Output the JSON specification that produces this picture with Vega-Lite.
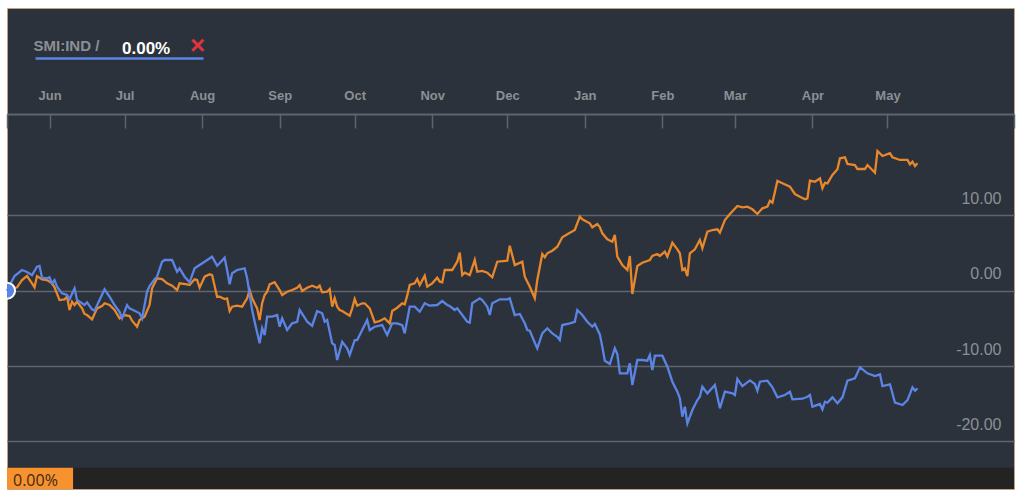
{
  "$schema": "https://vega.github.io/schema/vega-lite/v6.json",
  "width": 1007,
  "height": 481,
  "autosize": {"type": "none"},
  "padding": {"left": 7, "top": 8, "right": 10, "bottom": 7},
  "background": "#ffffff",
  "config": {
    "font": "Liberation Sans",
    "view": {"fill": "#2b323b", "stroke": "#f0a65e", "strokeDash": [1, 1], "strokeWidth": 1}
  },
  "data": {"values": [
    {"d":"2015-05-15","s":"Benchmark","v":0},
    {"d":"2015-05-19","s":"Benchmark","v":0.45},
    {"d":"2015-05-21","s":"Benchmark","v":1.42},
    {"d":"2015-05-23","s":"Benchmark","v":1.95},
    {"d":"2015-05-25","s":"Benchmark","v":0.98},
    {"d":"2015-05-26","s":"Benchmark","v":0.45},
    {"d":"2015-05-27","s":"Benchmark","v":1.95},
    {"d":"2015-05-29","s":"Benchmark","v":1.51},
    {"d":"2015-05-31","s":"Benchmark","v":1.42},
    {"d":"2015-06-02","s":"Benchmark","v":0.98},
    {"d":"2015-06-03","s":"Benchmark","v":0.45},
    {"d":"2015-06-05","s":"Benchmark","v":-1.24},
    {"d":"2015-06-07","s":"Benchmark","v":-1.14},
    {"d":"2015-06-08","s":"Benchmark","v":-0.80},
    {"d":"2015-06-09","s":"Benchmark","v":-2.56},
    {"d":"2015-06-10","s":"Benchmark","v":-1.46},
    {"d":"2015-06-11","s":"Benchmark","v":-1.90},
    {"d":"2015-06-12","s":"Benchmark","v":-1.46},
    {"d":"2015-06-14","s":"Benchmark","v":-2.34},
    {"d":"2015-06-15","s":"Benchmark","v":-3.09},
    {"d":"2015-06-16","s":"Benchmark","v":-3.23},
    {"d":"2015-06-18","s":"Benchmark","v":-3.80},
    {"d":"2015-06-20","s":"Benchmark","v":-2.34},
    {"d":"2015-06-22","s":"Benchmark","v":-2.03},
    {"d":"2015-06-23","s":"Benchmark","v":-1.67},
    {"d":"2015-06-25","s":"Benchmark","v":-1.90},
    {"d":"2015-06-27","s":"Benchmark","v":-2.56},
    {"d":"2015-06-29","s":"Benchmark","v":-3.67},
    {"d":"2015-07-01","s":"Benchmark","v":-3.23},
    {"d":"2015-07-03","s":"Benchmark","v":-3.36},
    {"d":"2015-07-04","s":"Benchmark","v":-3.98},
    {"d":"2015-07-06","s":"Benchmark","v":-4.78},
    {"d":"2015-07-07","s":"Benchmark","v":-3.89},
    {"d":"2015-07-09","s":"Benchmark","v":-3.45},
    {"d":"2015-07-11","s":"Benchmark","v":-1.90},
    {"d":"2015-07-12","s":"Benchmark","v":0.32},
    {"d":"2015-07-14","s":"Benchmark","v":1.65},
    {"d":"2015-07-16","s":"Benchmark","v":1.55},
    {"d":"2015-07-18","s":"Benchmark","v":0.98},
    {"d":"2015-07-20","s":"Benchmark","v":0.66},
    {"d":"2015-07-22","s":"Benchmark","v":0.09},
    {"d":"2015-07-23","s":"Benchmark","v":0.98},
    {"d":"2015-07-26","s":"Benchmark","v":0.85},
    {"d":"2015-07-27","s":"Benchmark","v":0.76},
    {"d":"2015-07-29","s":"Benchmark","v":1.51},
    {"d":"2015-07-30","s":"Benchmark","v":1.42},
    {"d":"2015-07-31","s":"Benchmark","v":0.40},
    {"d":"2015-08-02","s":"Benchmark","v":1.86},
    {"d":"2015-08-04","s":"Benchmark","v":2.18},
    {"d":"2015-08-05","s":"Benchmark","v":2.08},
    {"d":"2015-08-07","s":"Benchmark","v":-0.80},
    {"d":"2015-08-08","s":"Benchmark","v":-0.80},
    {"d":"2015-08-10","s":"Benchmark","v":-1.10},
    {"d":"2015-08-11","s":"Benchmark","v":-1.01},
    {"d":"2015-08-12","s":"Benchmark","v":-2.70},
    {"d":"2015-08-13","s":"Benchmark","v":-2.12},
    {"d":"2015-08-15","s":"Benchmark","v":-1.99},
    {"d":"2015-08-17","s":"Benchmark","v":-2.12},
    {"d":"2015-08-19","s":"Benchmark","v":-1.01},
    {"d":"2015-08-20","s":"Benchmark","v":0.09},
    {"d":"2015-08-21","s":"Benchmark","v":-1.01},
    {"d":"2015-08-23","s":"Benchmark","v":-2.34},
    {"d":"2015-08-24","s":"Benchmark","v":-3.89},
    {"d":"2015-08-25","s":"Benchmark","v":-1.67},
    {"d":"2015-08-26","s":"Benchmark","v":-0.57},
    {"d":"2015-08-27","s":"Benchmark","v":-0.13},
    {"d":"2015-08-28","s":"Benchmark","v":0.85},
    {"d":"2015-08-30","s":"Benchmark","v":1.12},
    {"d":"2015-09-01","s":"Benchmark","v":0.09},
    {"d":"2015-09-02","s":"Benchmark","v":-0.57},
    {"d":"2015-09-04","s":"Benchmark","v":-0.13},
    {"d":"2015-09-06","s":"Benchmark","v":0.09},
    {"d":"2015-09-08","s":"Benchmark","v":0.40},
    {"d":"2015-09-09","s":"Benchmark","v":0.76},
    {"d":"2015-09-10","s":"Benchmark","v":-0.04},
    {"d":"2015-09-12","s":"Benchmark","v":0.40},
    {"d":"2015-09-14","s":"Benchmark","v":0.66},
    {"d":"2015-09-16","s":"Benchmark","v":0.40},
    {"d":"2015-09-17","s":"Benchmark","v":0.66},
    {"d":"2015-09-18","s":"Benchmark","v":-0.21},
    {"d":"2015-09-20","s":"Benchmark","v":-0.13},
    {"d":"2015-09-21","s":"Benchmark","v":0.23},
    {"d":"2015-09-22","s":"Benchmark","v":-2.12},
    {"d":"2015-09-23","s":"Benchmark","v":-1.01},
    {"d":"2015-09-24","s":"Benchmark","v":-2.12},
    {"d":"2015-09-25","s":"Benchmark","v":-2.56},
    {"d":"2015-09-26","s":"Benchmark","v":-2.70},
    {"d":"2015-09-29","s":"Benchmark","v":-3.32},
    {"d":"2015-09-30","s":"Benchmark","v":-2.34},
    {"d":"2015-10-01","s":"Benchmark","v":-1.10},
    {"d":"2015-10-02","s":"Benchmark","v":-1.99},
    {"d":"2015-10-04","s":"Benchmark","v":-1.67},
    {"d":"2015-10-05","s":"Benchmark","v":-1.67},
    {"d":"2015-10-07","s":"Benchmark","v":-2.34},
    {"d":"2015-10-09","s":"Benchmark","v":-4.20},
    {"d":"2015-10-11","s":"Benchmark","v":-4.02},
    {"d":"2015-10-13","s":"Benchmark","v":-3.67},
    {"d":"2015-10-15","s":"Benchmark","v":-4.33},
    {"d":"2015-10-16","s":"Benchmark","v":-2.70},
    {"d":"2015-10-18","s":"Benchmark","v":-2.26},
    {"d":"2015-10-20","s":"Benchmark","v":-1.67},
    {"d":"2015-10-21","s":"Benchmark","v":-1.81},
    {"d":"2015-10-22","s":"Benchmark","v":-0.66},
    {"d":"2015-10-23","s":"Benchmark","v":0.76},
    {"d":"2015-10-25","s":"Benchmark","v":0.98},
    {"d":"2015-10-26","s":"Benchmark","v":1.55},
    {"d":"2015-10-27","s":"Benchmark","v":0.76},
    {"d":"2015-10-29","s":"Benchmark","v":1.99},
    {"d":"2015-10-30","s":"Benchmark","v":0.53},
    {"d":"2015-11-01","s":"Benchmark","v":0.98},
    {"d":"2015-11-03","s":"Benchmark","v":1.73},
    {"d":"2015-11-04","s":"Benchmark","v":1.20},
    {"d":"2015-11-05","s":"Benchmark","v":1.12},
    {"d":"2015-11-06","s":"Benchmark","v":2.75},
    {"d":"2015-11-09","s":"Benchmark","v":2.75},
    {"d":"2015-11-11","s":"Benchmark","v":3.85},
    {"d":"2015-11-12","s":"Benchmark","v":5.05},
    {"d":"2015-11-13","s":"Benchmark","v":2.08},
    {"d":"2015-11-14","s":"Benchmark","v":2.39},
    {"d":"2015-11-16","s":"Benchmark","v":2.08},
    {"d":"2015-11-18","s":"Benchmark","v":4.08},
    {"d":"2015-11-19","s":"Benchmark","v":2.52},
    {"d":"2015-11-21","s":"Benchmark","v":2.62},
    {"d":"2015-11-23","s":"Benchmark","v":2.39},
    {"d":"2015-11-25","s":"Benchmark","v":1.78},
    {"d":"2015-11-27","s":"Benchmark","v":3.85},
    {"d":"2015-12-01","s":"Benchmark","v":3.98},
    {"d":"2015-12-02","s":"Benchmark","v":5.98},
    {"d":"2015-12-04","s":"Benchmark","v":3.41},
    {"d":"2015-12-07","s":"Benchmark","v":3.85},
    {"d":"2015-12-08","s":"Benchmark","v":1.86},
    {"d":"2015-12-10","s":"Benchmark","v":0.53},
    {"d":"2015-12-12","s":"Benchmark","v":-1.01},
    {"d":"2015-12-13","s":"Benchmark","v":1.42},
    {"d":"2015-12-15","s":"Benchmark","v":4.87},
    {"d":"2015-12-16","s":"Benchmark","v":4.44},
    {"d":"2015-12-17","s":"Benchmark","v":4.97},
    {"d":"2015-12-19","s":"Benchmark","v":5.31},
    {"d":"2015-12-21","s":"Benchmark","v":5.84},
    {"d":"2015-12-23","s":"Benchmark","v":7.09},
    {"d":"2015-12-25","s":"Benchmark","v":7.49},
    {"d":"2015-12-28","s":"Benchmark","v":8.06},
    {"d":"2015-12-30","s":"Benchmark","v":9.83},
    {"d":"2015-12-31","s":"Benchmark","v":9.48},
    {"d":"2016-01-03","s":"Benchmark","v":8.95},
    {"d":"2016-01-04","s":"Benchmark","v":8.42},
    {"d":"2016-01-06","s":"Benchmark","v":8.86},
    {"d":"2016-01-07","s":"Benchmark","v":8.46},
    {"d":"2016-01-08","s":"Benchmark","v":7.62},
    {"d":"2016-01-10","s":"Benchmark","v":6.83},
    {"d":"2016-01-12","s":"Benchmark","v":6.51},
    {"d":"2016-01-13","s":"Benchmark","v":7.40},
    {"d":"2016-01-14","s":"Benchmark","v":4.52},
    {"d":"2016-01-16","s":"Benchmark","v":3.41},
    {"d":"2016-01-18","s":"Benchmark","v":2.75},
    {"d":"2016-01-19","s":"Benchmark","v":4.61},
    {"d":"2016-01-20","s":"Benchmark","v":-0.44},
    {"d":"2016-01-22","s":"Benchmark","v":3.28},
    {"d":"2016-01-24","s":"Benchmark","v":3.72},
    {"d":"2016-01-27","s":"Benchmark","v":4.08},
    {"d":"2016-01-28","s":"Benchmark","v":4.61},
    {"d":"2016-01-30","s":"Benchmark","v":4.87},
    {"d":"2016-01-31","s":"Benchmark","v":4.61},
    {"d":"2016-02-02","s":"Benchmark","v":5.18},
    {"d":"2016-02-03","s":"Benchmark","v":4.52},
    {"d":"2016-02-05","s":"Benchmark","v":6.37},
    {"d":"2016-02-07","s":"Benchmark","v":5.50},
    {"d":"2016-02-08","s":"Benchmark","v":4.97},
    {"d":"2016-02-09","s":"Benchmark","v":2.75},
    {"d":"2016-02-10","s":"Benchmark","v":2.97},
    {"d":"2016-02-11","s":"Benchmark","v":1.95},
    {"d":"2016-02-12","s":"Benchmark","v":4.97},
    {"d":"2016-02-14","s":"Benchmark","v":5.50},
    {"d":"2016-02-16","s":"Benchmark","v":6.73},
    {"d":"2016-02-17","s":"Benchmark","v":5.63},
    {"d":"2016-02-19","s":"Benchmark","v":7.84},
    {"d":"2016-02-21","s":"Benchmark","v":8.06},
    {"d":"2016-02-23","s":"Benchmark","v":8.15},
    {"d":"2016-02-24","s":"Benchmark","v":7.70},
    {"d":"2016-02-26","s":"Benchmark","v":9.39},
    {"d":"2016-02-28","s":"Benchmark","v":10.19},
    {"d":"2016-03-02","s":"Benchmark","v":11.25},
    {"d":"2016-03-04","s":"Benchmark","v":11.08},
    {"d":"2016-03-06","s":"Benchmark","v":11.16},
    {"d":"2016-03-08","s":"Benchmark","v":10.81},
    {"d":"2016-03-10","s":"Benchmark","v":10.19},
    {"d":"2016-03-12","s":"Benchmark","v":10.94},
    {"d":"2016-03-14","s":"Benchmark","v":11.16},
    {"d":"2016-03-15","s":"Benchmark","v":11.95},
    {"d":"2016-03-16","s":"Benchmark","v":11.69},
    {"d":"2016-03-18","s":"Benchmark","v":14.57},
    {"d":"2016-03-20","s":"Benchmark","v":14.26},
    {"d":"2016-03-23","s":"Benchmark","v":13.81},
    {"d":"2016-03-25","s":"Benchmark","v":12.84},
    {"d":"2016-03-27","s":"Benchmark","v":12.48},
    {"d":"2016-03-29","s":"Benchmark","v":12.14},
    {"d":"2016-03-30","s":"Benchmark","v":12.27},
    {"d":"2016-03-31","s":"Benchmark","v":14.61},
    {"d":"2016-04-02","s":"Benchmark","v":14.48},
    {"d":"2016-04-04","s":"Benchmark","v":14.93},
    {"d":"2016-04-05","s":"Benchmark","v":13.60},
    {"d":"2016-04-06","s":"Benchmark","v":14.34},
    {"d":"2016-04-07","s":"Benchmark","v":14.26},
    {"d":"2016-04-09","s":"Benchmark","v":15.37},
    {"d":"2016-04-11","s":"Benchmark","v":16.12},
    {"d":"2016-04-12","s":"Benchmark","v":17.58},
    {"d":"2016-04-14","s":"Benchmark","v":17.72},
    {"d":"2016-04-15","s":"Benchmark","v":16.83},
    {"d":"2016-04-18","s":"Benchmark","v":16.69},
    {"d":"2016-04-19","s":"Benchmark","v":16.16},
    {"d":"2016-04-22","s":"Benchmark","v":16.16},
    {"d":"2016-04-23","s":"Benchmark","v":16.69},
    {"d":"2016-04-26","s":"Benchmark","v":15.67},
    {"d":"2016-04-27","s":"Benchmark","v":18.55},
    {"d":"2016-04-29","s":"Benchmark","v":17.89},
    {"d":"2016-05-02","s":"Benchmark","v":18.25},
    {"d":"2016-05-03","s":"Benchmark","v":17.72},
    {"d":"2016-05-06","s":"Benchmark","v":17.36},
    {"d":"2016-05-09","s":"Benchmark","v":17.36},
    {"d":"2016-05-10","s":"Benchmark","v":16.79},
    {"d":"2016-05-11","s":"Benchmark","v":17.13},
    {"d":"2016-05-12","s":"Benchmark","v":16.56},
    {"d":"2016-05-13","s":"Benchmark","v":16.92},
    {"d":"2015-05-15","s":"SMI:IND","v":0},
    {"d":"2015-05-18","s":"SMI:IND","v":1.95},
    {"d":"2015-05-21","s":"SMI:IND","v":2.75},
    {"d":"2015-05-23","s":"SMI:IND","v":2.48},
    {"d":"2015-05-25","s":"SMI:IND","v":2.08},
    {"d":"2015-05-27","s":"SMI:IND","v":3.19},
    {"d":"2015-05-28","s":"SMI:IND","v":3.28},
    {"d":"2015-05-29","s":"SMI:IND","v":1.73},
    {"d":"2015-05-31","s":"SMI:IND","v":1.65},
    {"d":"2015-06-01","s":"SMI:IND","v":1.78},
    {"d":"2015-06-02","s":"SMI:IND","v":0.98},
    {"d":"2015-06-03","s":"SMI:IND","v":1.42},
    {"d":"2015-06-04","s":"SMI:IND","v":0.53},
    {"d":"2015-06-06","s":"SMI:IND","v":-0.35},
    {"d":"2015-06-08","s":"SMI:IND","v":-0.57},
    {"d":"2015-06-09","s":"SMI:IND","v":-1.14},
    {"d":"2015-06-11","s":"SMI:IND","v":0.32},
    {"d":"2015-06-12","s":"SMI:IND","v":-1.24},
    {"d":"2015-06-14","s":"SMI:IND","v":-1.67},
    {"d":"2015-06-15","s":"SMI:IND","v":-1.90},
    {"d":"2015-06-16","s":"SMI:IND","v":-1.54},
    {"d":"2015-06-18","s":"SMI:IND","v":-2.47},
    {"d":"2015-06-19","s":"SMI:IND","v":-2.66},
    {"d":"2015-06-21","s":"SMI:IND","v":-1.24},
    {"d":"2015-06-23","s":"SMI:IND","v":0.19},
    {"d":"2015-06-25","s":"SMI:IND","v":-0.80},
    {"d":"2015-06-27","s":"SMI:IND","v":-1.90},
    {"d":"2015-06-29","s":"SMI:IND","v":-2.79},
    {"d":"2015-06-30","s":"SMI:IND","v":-3.67},
    {"d":"2015-07-02","s":"SMI:IND","v":-1.90},
    {"d":"2015-07-03","s":"SMI:IND","v":-2.34},
    {"d":"2015-07-05","s":"SMI:IND","v":-2.66},
    {"d":"2015-07-07","s":"SMI:IND","v":-3.00},
    {"d":"2015-07-08","s":"SMI:IND","v":-3.67},
    {"d":"2015-07-10","s":"SMI:IND","v":-0.13},
    {"d":"2015-07-11","s":"SMI:IND","v":0.62},
    {"d":"2015-07-13","s":"SMI:IND","v":1.51},
    {"d":"2015-07-14","s":"SMI:IND","v":1.86},
    {"d":"2015-07-16","s":"SMI:IND","v":3.85},
    {"d":"2015-07-17","s":"SMI:IND","v":4.08},
    {"d":"2015-07-20","s":"SMI:IND","v":4.08},
    {"d":"2015-07-22","s":"SMI:IND","v":2.52},
    {"d":"2015-07-23","s":"SMI:IND","v":2.97},
    {"d":"2015-07-25","s":"SMI:IND","v":1.86},
    {"d":"2015-07-27","s":"SMI:IND","v":1.12},
    {"d":"2015-07-29","s":"SMI:IND","v":2.97},
    {"d":"2015-07-31","s":"SMI:IND","v":3.41},
    {"d":"2015-08-02","s":"SMI:IND","v":3.85},
    {"d":"2015-08-05","s":"SMI:IND","v":4.52},
    {"d":"2015-08-07","s":"SMI:IND","v":3.32},
    {"d":"2015-08-08","s":"SMI:IND","v":3.64},
    {"d":"2015-08-10","s":"SMI:IND","v":4.38},
    {"d":"2015-08-11","s":"SMI:IND","v":2.75},
    {"d":"2015-08-12","s":"SMI:IND","v":0.85},
    {"d":"2015-08-13","s":"SMI:IND","v":2.31},
    {"d":"2015-08-15","s":"SMI:IND","v":2.75},
    {"d":"2015-08-18","s":"SMI:IND","v":2.97},
    {"d":"2015-08-19","s":"SMI:IND","v":1.65},
    {"d":"2015-08-21","s":"SMI:IND","v":-2.56},
    {"d":"2015-08-22","s":"SMI:IND","v":-4.12},
    {"d":"2015-08-24","s":"SMI:IND","v":-6.99},
    {"d":"2015-08-25","s":"SMI:IND","v":-4.99},
    {"d":"2015-08-26","s":"SMI:IND","v":-5.88},
    {"d":"2015-08-27","s":"SMI:IND","v":-3.45},
    {"d":"2015-08-29","s":"SMI:IND","v":-3.45},
    {"d":"2015-08-31","s":"SMI:IND","v":-3.23},
    {"d":"2015-09-01","s":"SMI:IND","v":-4.78},
    {"d":"2015-09-02","s":"SMI:IND","v":-3.67},
    {"d":"2015-09-04","s":"SMI:IND","v":-5.22},
    {"d":"2015-09-06","s":"SMI:IND","v":-4.33},
    {"d":"2015-09-08","s":"SMI:IND","v":-4.12},
    {"d":"2015-09-09","s":"SMI:IND","v":-2.56},
    {"d":"2015-09-11","s":"SMI:IND","v":-3.56},
    {"d":"2015-09-12","s":"SMI:IND","v":-4.12},
    {"d":"2015-09-14","s":"SMI:IND","v":-4.65},
    {"d":"2015-09-16","s":"SMI:IND","v":-2.70},
    {"d":"2015-09-18","s":"SMI:IND","v":-3.00},
    {"d":"2015-09-19","s":"SMI:IND","v":-4.12},
    {"d":"2015-09-20","s":"SMI:IND","v":-3.89},
    {"d":"2015-09-22","s":"SMI:IND","v":-6.99},
    {"d":"2015-09-23","s":"SMI:IND","v":-7.21},
    {"d":"2015-09-24","s":"SMI:IND","v":-9.20},
    {"d":"2015-09-26","s":"SMI:IND","v":-6.77},
    {"d":"2015-09-28","s":"SMI:IND","v":-7.65},
    {"d":"2015-09-29","s":"SMI:IND","v":-8.54},
    {"d":"2015-10-01","s":"SMI:IND","v":-6.55},
    {"d":"2015-10-02","s":"SMI:IND","v":-6.55},
    {"d":"2015-10-04","s":"SMI:IND","v":-5.22},
    {"d":"2015-10-06","s":"SMI:IND","v":-3.89},
    {"d":"2015-10-07","s":"SMI:IND","v":-5.22},
    {"d":"2015-10-09","s":"SMI:IND","v":-4.78},
    {"d":"2015-10-12","s":"SMI:IND","v":-4.56},
    {"d":"2015-10-14","s":"SMI:IND","v":-5.88},
    {"d":"2015-10-16","s":"SMI:IND","v":-4.33},
    {"d":"2015-10-18","s":"SMI:IND","v":-4.33},
    {"d":"2015-10-20","s":"SMI:IND","v":-4.56},
    {"d":"2015-10-21","s":"SMI:IND","v":-5.66},
    {"d":"2015-10-23","s":"SMI:IND","v":-2.12},
    {"d":"2015-10-25","s":"SMI:IND","v":-2.12},
    {"d":"2015-10-27","s":"SMI:IND","v":-2.79},
    {"d":"2015-10-29","s":"SMI:IND","v":-1.67},
    {"d":"2015-10-31","s":"SMI:IND","v":-1.99},
    {"d":"2015-11-03","s":"SMI:IND","v":-1.90},
    {"d":"2015-11-05","s":"SMI:IND","v":-1.37},
    {"d":"2015-11-07","s":"SMI:IND","v":-1.90},
    {"d":"2015-11-08","s":"SMI:IND","v":-2.03},
    {"d":"2015-11-10","s":"SMI:IND","v":-2.56},
    {"d":"2015-11-11","s":"SMI:IND","v":-2.34},
    {"d":"2015-11-13","s":"SMI:IND","v":-3.23},
    {"d":"2015-11-15","s":"SMI:IND","v":-4.12},
    {"d":"2015-11-16","s":"SMI:IND","v":-4.25},
    {"d":"2015-11-17","s":"SMI:IND","v":-1.67},
    {"d":"2015-11-20","s":"SMI:IND","v":-1.01},
    {"d":"2015-11-21","s":"SMI:IND","v":-1.24},
    {"d":"2015-11-23","s":"SMI:IND","v":-2.12},
    {"d":"2015-11-24","s":"SMI:IND","v":-3.23},
    {"d":"2015-11-25","s":"SMI:IND","v":-1.67},
    {"d":"2015-11-28","s":"SMI:IND","v":-1.14},
    {"d":"2015-12-01","s":"SMI:IND","v":-1.14},
    {"d":"2015-12-02","s":"SMI:IND","v":-1.01},
    {"d":"2015-12-04","s":"SMI:IND","v":-3.23},
    {"d":"2015-12-06","s":"SMI:IND","v":-3.09},
    {"d":"2015-12-08","s":"SMI:IND","v":-4.33},
    {"d":"2015-12-09","s":"SMI:IND","v":-5.22},
    {"d":"2015-12-10","s":"SMI:IND","v":-5.31},
    {"d":"2015-12-12","s":"SMI:IND","v":-6.91},
    {"d":"2015-12-13","s":"SMI:IND","v":-7.65},
    {"d":"2015-12-15","s":"SMI:IND","v":-5.66},
    {"d":"2015-12-17","s":"SMI:IND","v":-4.99},
    {"d":"2015-12-19","s":"SMI:IND","v":-5.66},
    {"d":"2015-12-21","s":"SMI:IND","v":-6.11},
    {"d":"2015-12-22","s":"SMI:IND","v":-6.55},
    {"d":"2015-12-23","s":"SMI:IND","v":-4.56},
    {"d":"2015-12-26","s":"SMI:IND","v":-4.33},
    {"d":"2015-12-28","s":"SMI:IND","v":-4.12},
    {"d":"2015-12-29","s":"SMI:IND","v":-2.56},
    {"d":"2015-12-31","s":"SMI:IND","v":-3.23},
    {"d":"2016-01-02","s":"SMI:IND","v":-4.12},
    {"d":"2016-01-04","s":"SMI:IND","v":-4.78},
    {"d":"2016-01-05","s":"SMI:IND","v":-4.42},
    {"d":"2016-01-07","s":"SMI:IND","v":-5.80},
    {"d":"2016-01-08","s":"SMI:IND","v":-7.44},
    {"d":"2016-01-09","s":"SMI:IND","v":-9.30},
    {"d":"2016-01-11","s":"SMI:IND","v":-9.73},
    {"d":"2016-01-13","s":"SMI:IND","v":-7.65},
    {"d":"2016-01-14","s":"SMI:IND","v":-8.41},
    {"d":"2016-01-15","s":"SMI:IND","v":-10.97},
    {"d":"2016-01-18","s":"SMI:IND","v":-10.97},
    {"d":"2016-01-19","s":"SMI:IND","v":-9.64},
    {"d":"2016-01-20","s":"SMI:IND","v":-12.52},
    {"d":"2016-01-22","s":"SMI:IND","v":-9.20},
    {"d":"2016-01-24","s":"SMI:IND","v":-9.20},
    {"d":"2016-01-26","s":"SMI:IND","v":-9.30},
    {"d":"2016-01-27","s":"SMI:IND","v":-8.54},
    {"d":"2016-01-28","s":"SMI:IND","v":-10.53},
    {"d":"2016-01-29","s":"SMI:IND","v":-8.63},
    {"d":"2016-02-01","s":"SMI:IND","v":-8.63},
    {"d":"2016-02-03","s":"SMI:IND","v":-10.09},
    {"d":"2016-02-05","s":"SMI:IND","v":-12.08},
    {"d":"2016-02-07","s":"SMI:IND","v":-13.41},
    {"d":"2016-02-08","s":"SMI:IND","v":-14.29},
    {"d":"2016-02-09","s":"SMI:IND","v":-16.73},
    {"d":"2016-02-10","s":"SMI:IND","v":-15.40},
    {"d":"2016-02-11","s":"SMI:IND","v":-17.61},
    {"d":"2016-02-13","s":"SMI:IND","v":-15.84},
    {"d":"2016-02-15","s":"SMI:IND","v":-14.52},
    {"d":"2016-02-16","s":"SMI:IND","v":-14.08},
    {"d":"2016-02-17","s":"SMI:IND","v":-12.75},
    {"d":"2016-02-19","s":"SMI:IND","v":-13.63},
    {"d":"2016-02-22","s":"SMI:IND","v":-12.52},
    {"d":"2016-02-24","s":"SMI:IND","v":-15.62},
    {"d":"2016-02-26","s":"SMI:IND","v":-13.41},
    {"d":"2016-02-29","s":"SMI:IND","v":-13.63},
    {"d":"2016-03-01","s":"SMI:IND","v":-13.85},
    {"d":"2016-03-02","s":"SMI:IND","v":-11.73},
    {"d":"2016-03-04","s":"SMI:IND","v":-12.66},
    {"d":"2016-03-07","s":"SMI:IND","v":-11.90},
    {"d":"2016-03-09","s":"SMI:IND","v":-12.39},
    {"d":"2016-03-10","s":"SMI:IND","v":-13.28},
    {"d":"2016-03-11","s":"SMI:IND","v":-12.08},
    {"d":"2016-03-14","s":"SMI:IND","v":-11.95},
    {"d":"2016-03-16","s":"SMI:IND","v":-12.83},
    {"d":"2016-03-18","s":"SMI:IND","v":-14.16},
    {"d":"2016-03-21","s":"SMI:IND","v":-13.85},
    {"d":"2016-03-23","s":"SMI:IND","v":-13.41},
    {"d":"2016-03-24","s":"SMI:IND","v":-14.42},
    {"d":"2016-03-28","s":"SMI:IND","v":-14.34},
    {"d":"2016-03-30","s":"SMI:IND","v":-14.08},
    {"d":"2016-03-31","s":"SMI:IND","v":-13.85},
    {"d":"2016-04-01","s":"SMI:IND","v":-15.40},
    {"d":"2016-04-04","s":"SMI:IND","v":-15.05},
    {"d":"2016-04-05","s":"SMI:IND","v":-15.75},
    {"d":"2016-04-06","s":"SMI:IND","v":-14.74},
    {"d":"2016-04-07","s":"SMI:IND","v":-14.87},
    {"d":"2016-04-09","s":"SMI:IND","v":-14.16},
    {"d":"2016-04-11","s":"SMI:IND","v":-14.95},
    {"d":"2016-04-13","s":"SMI:IND","v":-14.16},
    {"d":"2016-04-15","s":"SMI:IND","v":-11.95},
    {"d":"2016-04-18","s":"SMI:IND","v":-11.63},
    {"d":"2016-04-20","s":"SMI:IND","v":-10.17},
    {"d":"2016-04-23","s":"SMI:IND","v":-10.97},
    {"d":"2016-04-26","s":"SMI:IND","v":-11.33},
    {"d":"2016-04-28","s":"SMI:IND","v":-11.10},
    {"d":"2016-04-29","s":"SMI:IND","v":-12.66},
    {"d":"2016-05-02","s":"SMI:IND","v":-12.43},
    {"d":"2016-05-04","s":"SMI:IND","v":-14.87},
    {"d":"2016-05-07","s":"SMI:IND","v":-15.18},
    {"d":"2016-05-09","s":"SMI:IND","v":-14.52},
    {"d":"2016-05-11","s":"SMI:IND","v":-12.83},
    {"d":"2016-05-12","s":"SMI:IND","v":-13.28},
    {"d":"2016-05-13","s":"SMI:IND","v":-12.96}
  ]},
  "layer": [
    {
      "data": {"values": [{}]},
      "mark": {"type": "rect", "color": "#232323"},
      "encoding": {
        "x": {"datum": {"year": 2015, "month": 5, "date": 15}, "type": "temporal",
              "scale": {"domain": [{"year": 2015, "month": 5, "date": 15}, {"year": 2016, "month": 6, "date": 20, "hours": 14}]}},
        "x2": {"datum": {"year": 2016, "month": 6, "date": 20, "hours": 14}},
        "y": {"datum": -23.5, "type": "quantitative", "scale": {"domain": [-26.33, 37.54], "nice": false, "zero": false}},
        "y2": {"datum": -26.33}
      }
    },
    {
      "data": {"values": [{}]},
      "mark": {"type": "rect", "color": "#f7922f"},
      "encoding": {
        "x": {"datum": {"year": 2015, "month": 5, "date": 15}, "type": "temporal"},
        "x2": {"datum": {"year": 2015, "month": 6, "date": 10, "hours": 10}},
        "y": {"datum": -23.5, "type": "quantitative"},
        "y2": {"datum": -26.33}
      }
    },
    {
      "data": {"values": [{}]},
      "mark": {"type": "text", "text": "0.00%", "align": "left", "baseline": "middle", "dx": 6, "font": "Open Sans", "fontSize": 16, "fill": "#3b2a17"},
      "encoding": {
        "x": {"datum": {"year": 2015, "month": 5, "date": 15}, "type": "temporal"},
        "y": {"datum": -25.3, "type": "quantitative"}
      }
    },
    {
      "mark": {"type": "line", "strokeWidth": 2.3},
      "encoding": {
        "x": {"field": "d", "type": "temporal",
              "axis": {"orient": "top", "offset": -106,
                       "values": [{"year": 2015, "month": 5, "date": 15, "hours": 3}, {"year": 2015, "month": 6, "date": 1}, {"year": 2015, "month": 7, "date": 1}, {"year": 2015, "month": 8, "date": 1}, {"year": 2015, "month": 9, "date": 1}, {"year": 2015, "month": 10, "date": 1}, {"year": 2015, "month": 11, "date": 1}, {"year": 2015, "month": 12, "date": 1}, {"year": 2016, "month": 1, "date": 1}, {"year": 2016, "month": 2, "date": 1}, {"year": 2016, "month": 3, "date": 1}, {"year": 2016, "month": 4, "date": 1}, {"year": 2016, "month": 5, "date": 1}, {"year": 2016, "month": 6, "date": 20, "hours": 12}],
                       "labelExpr": "timeFormat(datum.value, '%d') == '01' ? timeFormat(datum.value, '%b') : ''",
                       "grid": false, "domainColor": "#5f646b", "domainWidth": 2, "tickColor": "#5f646b", "tickWidth": 1.5, "tickSize": -14,
                       "labelPadding": 26, "labelColor": "#8c9096", "labelFontSize": 13, "labelFontWeight": "bold", "labelFlush": false, "labelOverlap": false,
                       "title": "SMI:IND /", "titleX": 26, "titleY": -69, "titleAlign": "left", "titleBaseline": "middle", "titleAngle": 0,
                       "titleColor": "#8b8f95", "titleFontSize": 15, "titleFontWeight": "bold"}},
        "y": {"field": "v", "type": "quantitative",
              "axis": {"orient": "right", "values": [-20, -10, 0, 10], "grid": true, "gridColor": "#60656c", "gridWidth": 1.5,
                       "domain": false, "ticks": false, "labelPadding": -13, "labelAlign": "right", "labelBaseline": "bottom", "labelOffset": -9,
                       "labelColor": "#8c9096", "labelFontSize": 16, "labelFlush": false,
                       "labelExpr": "(datum.value < 0 ? '-' : '') + format(abs(datum.value), '.2f')",
                       "title": "\u00d7", "titleX": -817, "titleY": 37, "titleAngle": 0, "titleAlign": "center", "titleBaseline": "middle",
                       "titleColor": "#e0343c", "titleFontSize": 26, "titleFontWeight": "bold"}},
        "color": {"field": "s", "type": "nominal",
                  "scale": {"domain": ["SMI:IND", "Benchmark"], "range": ["#5b84e4", "#e8872b"]},
                  "legend": {"orient": "none", "legendX": 27, "legendY": -35, "title": null, "values": ["SMI:IND"], "padding": 0,
                             "symbolType": "stroke", "symbolSize": 28224, "symbolStrokeWidth": 2.5,
                             "labelExpr": "'0.00%'", "labelColor": "#ffffff", "labelFontSize": 17, "labelFontWeight": "bold", "labelOffset": -83,
                             "labelBaseline": "line-bottom", "labelLineHeight": 26}}
      }
    },
    {
      "transform": [{"filter": "datum.s == 'SMI:IND' && datum.v == 0"}],
      "mark": {"type": "point", "filled": true, "size": 260, "color": "#5b84e4", "stroke": "#ffffff", "strokeWidth": 2, "opacity": 1, "clip": true},
      "encoding": {
        "x": {"field": "d", "type": "temporal"},
        "y": {"field": "v", "type": "quantitative"}
      }
    }
  ]
}
